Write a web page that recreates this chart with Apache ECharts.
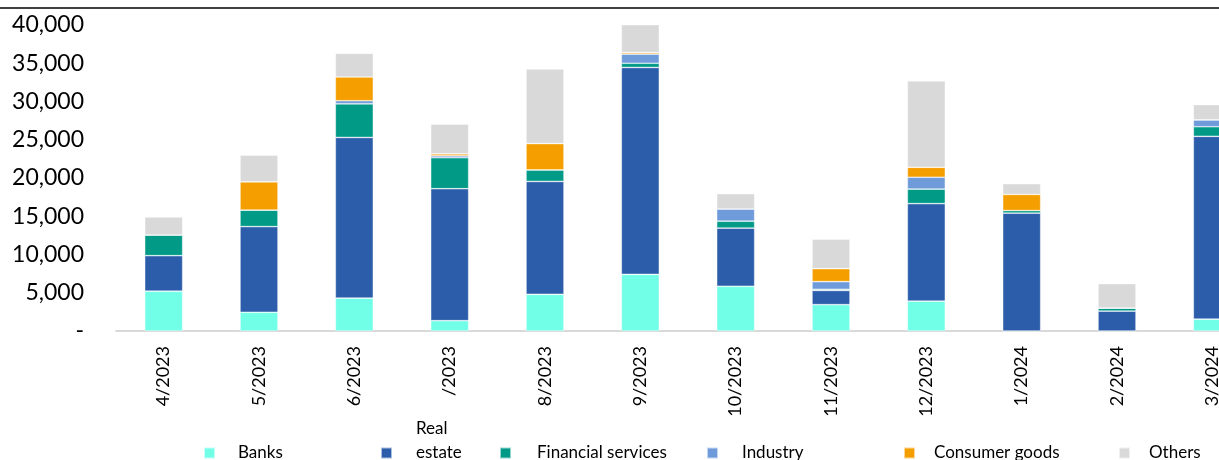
<!DOCTYPE html>
<html>
<head>
<meta charset="utf-8">
<script src="https://cdn.jsdelivr.net/npm/echarts@6/dist/echarts.min.js"></script>
<style>
  html, body { margin: 0; padding: 0; background: #fff; overflow: hidden; }
  #chart { width: 1260px; height: 460px; }
</style>
</head>
<body>
<div id="chart"></div>
<script>
// months (the 7 is missing from the source label)
let categories = ['4/2023', '5/2023', '6/2023', '/2023', '8/2023', '9/2023', '10/2023', '11/2023', '12/2023', '1/2024', '2/2024', '3/2024'];

let banks      = [5200, 2450, 4300, 1350, 4800, 7400, 5850, 3450, 3900, 0, 0, 1550];
let realEstate = [4650, 11200, 21000, 17250, 14750, 27050, 7600, 1850, 12750, 15400, 2600, 23900];
let financial  = [2700, 2150, 4400, 4050, 1500, 550, 900, 150, 1900, 350, 400, 1250];
let industry   = [0, 0, 400, 250, 0, 1200, 1600, 1000, 1550, 0, 0, 900];
let consumer   = [0, 3700, 3100, 250, 3450, 200, 0, 1700, 1300, 2100, 0, 0];
let others     = [2350, 3500, 3100, 3900, 9750, 3650, 2000, 3850, 11300, 1400, 3200, 2000];

let seriesNames = ['Banks', 'Real estate', 'Financial services', 'Industry', 'Consumer goods', 'Others'];
let seriesData = [banks, realEstate, financial, industry, consumer, others];
let colors = ['#72FFE8', '#2B5DAA', '#009A87', '#6F9BDB', '#F59E00', '#D9D9D9'];

// legend placement (marker left, gap to text)
let legendLeft = [203, 380, 499, 706, 903, 1118];
let legendGap = [34, 35, 37, 35, 30, 30];

let font = 'Lato, "Noto Sans", sans-serif';

let legends = seriesNames.map(function (name, i) {
    let wrap = name === 'Real estate';
    return {
        data: [name],
        left: legendLeft[i],
        top: wrap ? 417 : 441,
        padding: 0,
        itemWidth: 11,
        itemHeight: 11,
        icon: 'rect',
        itemGap: 0,
        selectedMode: false,
        formatter: function (n) {
            // wrapped like the source; blank third line keeps "estate" level with the marker
            return n === 'Real estate' ? 'Real\nestate\n ' : n;
        },
        textStyle: {
            fontFamily: font,
            fontSize: 17,
            color: '#000',
            lineHeight: 24,
            padding: [0, 0, 0, legendGap[i] - 16]
        }
    };
});

let option = {
    backgroundColor: '#fff',
    animation: false,
    color: colors,
    legend: legends,
    graphic: [{
        type: 'line',
        shape: { x1: 0, y1: 8, x2: 1260, y2: 8 },
        style: { stroke: '#000', lineWidth: 1.5 }
    }],
    grid: {
        left: 116,
        top: 25,
        width: 1144,
        height: 306
    },
    xAxis: {
        type: 'category',
        data: categories,
        axisLine: { lineStyle: { color: '#D9D9D9', width: 2 } },
        axisTick: { show: false },
        axisLabel: {
            rotate: 90,
            margin: 15,
            interval: 0,
            fontFamily: font,
            fontSize: 18,
            color: '#000'
        }
    },
    yAxis: {
        type: 'value',
        min: 0,
        max: 40000,
        interval: 5000,
        splitLine: { show: false },
        axisLine: { show: false },
        axisTick: { show: false },
        axisLabel: {
            margin: 32,
            fontFamily: font,
            fontSize: 23,
            color: '#000',
            formatter: function (v) {
                return v === 0 ? '-' : v.toLocaleString('en-US');
            }
        }
    },
    series: seriesNames.map(function (name, i) {
        return {
            name: name,
            type: 'bar',
            stack: 'total',
            barWidth: 38,
            itemStyle: {
                color: colors[i],
                borderColor: 'rgba(255,255,255,0.6)',
                borderWidth: 0.7
            },
            data: seriesData[i]
        };
    })
};

var dom = document.getElementById('chart');
var myChart = echarts.init(dom);
myChart.setOption(option);
</script>
</body>
</html>
